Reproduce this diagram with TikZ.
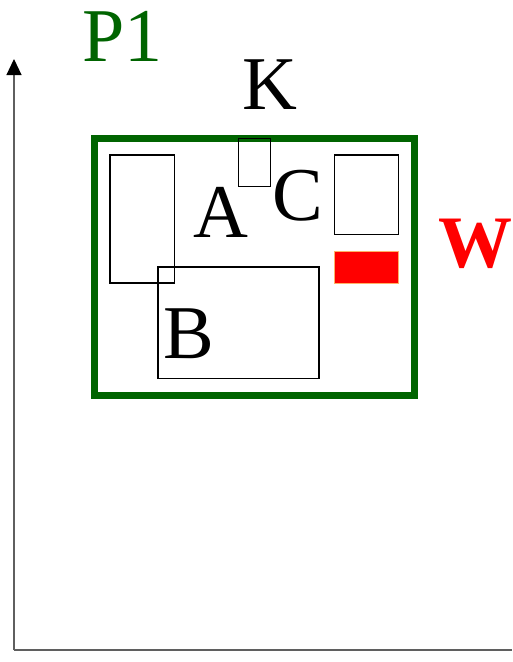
\documentclass[tikz,border=0pt]{standalone}
\usepackage{fontspec}
\setmainfont{Liberation Serif}
\usetikzlibrary{arrows.meta}
\definecolor{pgreen}{RGB}{0,100,0}
\definecolor{axisgray}{RGB}{95,95,95}
\tikzset{
  setlabel/.style={inner sep=0pt, font=\fontsize{76}{76}\selectfont},
  setbox/.style={draw=black, line width=1.6pt},
}
\begin{document}
\begin{tikzpicture}[x=1pt, y=-1pt, >={Triangle[length=16pt,width=15pt,black]}]
    \useasboundingbox (0,0) rectangle (512,662);

    % axes
    \draw[->, axisgray, line width=1.2pt] (14,650) -- (14,59);
    \draw[axisgray, line width=1.2pt] (14,650) -- (512,650);

    % frame P1
    \draw[pgreen, line width=7pt] (94.5,138.5) rectangle (414.5,395);

    % sets
    \draw[setbox] (110,155) rectangle (174.5,283);
    \draw[setbox] (158,267) rectangle (319,378.5);
    \draw[setbox] (334.5,155) rectangle (398.5,234.5);
    \draw[black, line width=0.9pt] (238.5,138.5) rectangle (270.5,186.5);
    \draw[fill=red, draw=orange!60, line width=0.8pt] (334.5,251) rectangle (398.5,283);

    % labels
    \node[setlabel, pgreen] (p1) at (122.5,36) {P1};
    \node[setlabel] (k) at (270,85) {K};
    \node[setlabel] (a) at (221,212) {A};
    \node[setlabel] (c) at (298,196) {C};
    \node[setlabel] (b) at (189,334) {B};
    \node[setlabel, red, font=\fontsize{74}{74}\selectfont\bfseries] (w) at (475,244) {W};
\end{tikzpicture}
\end{document}
